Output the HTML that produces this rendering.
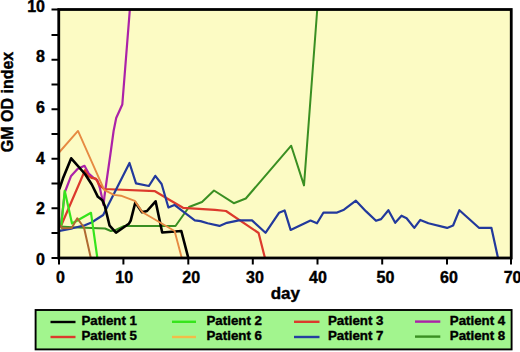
<!DOCTYPE html>
<html><head><meta charset="utf-8">
<style>
html,body{margin:0;padding:0;background:#fff;}
body{width:520px;height:352px;overflow:hidden;}
svg{display:block;}
text{font-family:"Liberation Sans",sans-serif;font-weight:bold;fill:#000;stroke:#000;stroke-width:0.4px;}
</style></head><body>
<svg width="520" height="352" viewBox="0 0 520 352">
<rect x="0" y="0" width="520" height="352" fill="#ffffff"/>
<!-- plot area -->
<rect x="59" y="9.5" width="452" height="248.5" fill="#fcfbc4"/>
<g fill="none" stroke-linejoin="round" stroke-linecap="round">
<!-- P8 dark green -->
<polyline stroke="#3a8f22" stroke-width="2" points="60,226.5 72,227.3 105,228.5 110.9,231 115.3,230.2 124.3,226 168,226 175.5,226 189,207 202,202 214,190.5 233.8,203.2 245.8,198.5 291.2,145.7 304,185.4 317.2,10"/>
<!-- P4 magenta -->
<polyline stroke="#ac22a8" stroke-width="2.2" points="61,225 64.9,192 71.1,175.9 77.5,169 84.5,165.8 88.7,173.5 94.4,178.5 97.2,179.9 100,188.4 103.6,205 104.5,196 107,178 111,150 113.6,131 116.2,118 122.3,104.5 129.8,10"/>
<!-- P3 red -->
<polyline stroke="#dc3a2c" stroke-width="2.2" points="61.2,225.5 85,170.2 88,175.6 91.5,177.8 95.8,178.6 99.3,184.9 104,189 155,191.2 168,199 183,207.8 215,209.8 226,211 258.6,233 264.7,257"/>
<!-- P7 blue -->
<polyline stroke="#22399c" stroke-width="2.2" points="59.5,230.8 72.4,228.3 84.8,225.3 91.5,222.5 103.2,215 129.5,163 136,183.4 148.9,186 155.3,175.8 161.6,184 168.4,207.5 174.4,204.9 194.8,220.3 200.5,221.1 207.6,223.3 219.5,225.9 226.9,222.8 238.9,220.3 252,220.4 265.5,232.8 279,212.8 284.6,210.4 290.6,229.9 310.5,220.6 317,223.3 323.5,212.5 337.1,212.6 344,209.7 355.9,200.7 366.1,211.4 376,220.8 381.1,219.1 388.4,210.2 395.2,222.8 401.5,215.7 406.6,218.2 414.3,227.9 420.3,219.9 428.4,223.3 447.1,227.9 453.1,225.5 459.4,210.2 478.9,227.8 491.4,227.8 497.8,257"/>
<!-- P2 bright green -->
<polyline stroke="#36e41c" stroke-width="2.2" points="61.3,225.5 64.7,190.8 72,223.5 91,212.8 97.2,257"/>
<!-- brown -->
<polyline stroke="#b06a30" stroke-width="2" points="60.5,225.5 62,228.3 71.7,228 77.3,218.3 84,227.5 90.6,257"/>
<!-- P1 black -->
<polyline stroke="#000" stroke-width="2.6" points="59.5,188.5 63,178.3 71.2,158.3 85,174 91.8,184.5 97.9,196.8 102.4,200.3 104.8,206 109.6,225.7 116,232.7 128.8,223.8 130.7,220.6 135.3,202.5 142,212.2 147,211 155.6,201.3 162.2,232.5 181.3,231 188.2,257.5"/>
<!-- P6 orange -->
<polyline stroke="#e68a42" stroke-width="1.9" points="59.5,152 78,130.9 104.2,189.8 113.9,194.9 120.9,195.7 126.8,197.9 134.8,200.9 142.5,212.3 174.6,231 181.5,257"/>
</g>
<!-- axes -->
<g stroke="#000" fill="none">
<rect x="58.75" y="9.5" width="452.5" height="248.5" stroke-width="2.8"/>
<!-- y ticks -->
<g stroke-width="2">
<line x1="51.5" y1="9.5" x2="59" y2="9.5"/>
<line x1="51.5" y1="35" x2="59" y2="35"/>
<line x1="51.5" y1="59.75" x2="59" y2="59.75"/>
<line x1="51.5" y1="84.5" x2="59" y2="84.5"/>
<line x1="51.5" y1="109.25" x2="59" y2="109.25"/>
<line x1="51.5" y1="134" x2="59" y2="134"/>
<line x1="51.5" y1="158.75" x2="59" y2="158.75"/>
<line x1="51.5" y1="183.5" x2="59" y2="183.5"/>
<line x1="51.5" y1="208.25" x2="59" y2="208.25"/>
<line x1="51.5" y1="233" x2="59" y2="233"/>
<line x1="51.5" y1="258" x2="59" y2="258"/>
</g>
<g stroke-width="2">
<line x1="59" y1="258" x2="59" y2="264.5"/>
<line x1="123.4" y1="258" x2="123.4" y2="264.5"/>
<line x1="188.3" y1="258" x2="188.3" y2="264.5"/>
<line x1="252.8" y1="258" x2="252.8" y2="264.5"/>
<line x1="317.5" y1="258" x2="317.5" y2="264.5"/>
<line x1="382.2" y1="258" x2="382.2" y2="264.5"/>
<line x1="447" y1="258" x2="447" y2="264.5"/>
<line x1="511" y1="258" x2="511" y2="264.5"/>
</g>
</g>
<!-- y labels -->
<g font-size="16" text-anchor="end">
<text x="45" y="11.8">10</text>
<text x="45" y="62.3">8</text>
<text x="45" y="113.3">6</text>
<text x="45" y="163.5">4</text>
<text x="45" y="213.9">2</text>
<text x="45" y="265">0</text>
</g>
<!-- x labels -->
<g font-size="16" text-anchor="middle">
<text x="60.4" y="283">0</text>
<text x="124.2" y="283">10</text>
<text x="191.2" y="283">20</text>
<text x="255" y="283">30</text>
<text x="318" y="283">40</text>
<text x="385.5" y="283">50</text>
<text x="449" y="283">60</text>
<text x="512.6" y="283">70</text>
</g>
<text x="285.3" y="299" font-size="17" text-anchor="middle">day</text>
<text transform="translate(12.8,102) rotate(-90)" font-size="16" text-anchor="middle">GM OD index</text>
<!-- legend -->
<rect x="35.6" y="310" width="476" height="39.4" fill="#a2f58e" stroke="#000" stroke-width="1.9"/>
<g stroke-width="2.4">
<line x1="50.5" y1="322" x2="75.5" y2="322" stroke="#000"/>
<line x1="172" y1="321.8" x2="196" y2="321.8" stroke="#36e41c"/>
<line x1="294" y1="321.8" x2="319.5" y2="321.8" stroke="#dc3a2c"/>
<line x1="415" y1="321.6" x2="440.3" y2="321.6" stroke="#ac22a8"/>
<line x1="50.5" y1="337" x2="75.5" y2="337" stroke="#dc3a2c"/>
<line x1="172" y1="337" x2="196" y2="337" stroke="#f2bc48"/>
<line x1="294" y1="337" x2="319.5" y2="337" stroke="#243fa0"/>
<line x1="415" y1="336.6" x2="440.3" y2="336.6" stroke="#3a8f22"/>
</g>
<g font-size="13.3">
<text x="81.5" y="324.5">Patient 1</text>
<text x="206.5" y="324.5">Patient 2</text>
<text x="328" y="324.5">Patient 3</text>
<text x="449.8" y="324.5">Patient 4</text>
<text x="81.5" y="339.5">Patient 5</text>
<text x="206.5" y="339.5">Patient 6</text>
<text x="328" y="339.5">Patient 7</text>
<text x="449.8" y="339.5">Patient 8</text>
</g>
</svg>
</body></html>
